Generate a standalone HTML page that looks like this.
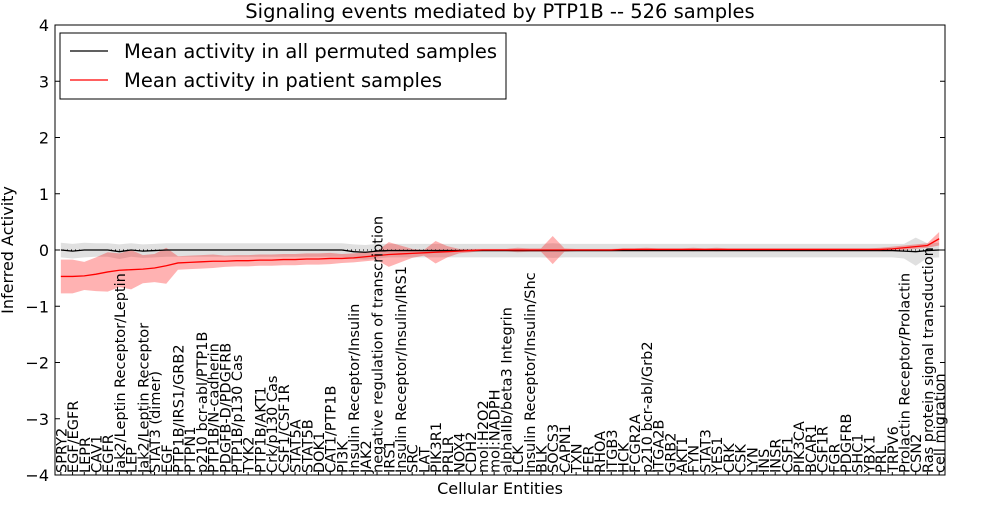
<!DOCTYPE html>
<html><head><meta charset="utf-8"><style>
body{margin:0;background:#fff;}
svg text{font-family:"DejaVu Sans","Liberation Sans",sans-serif;}
</style></head><body>
<svg id="chart" width="1000" height="500" xmlns="http://www.w3.org/2000/svg">
<text x="500" y="18" text-anchor="middle" font-size="19.5">Signaling events mediated by PTP1B -- 526 samples</text>
<g id="plot"></g>
<text x="500" y="494" text-anchor="middle" font-size="16">Cellular Entities</text>
<text transform="translate(13,250) rotate(-90)" text-anchor="middle" font-size="16">Inferred Activity</text>
</svg>
<script>
const categories=["SPRY2","EGF/EGFR","LEPR","CAV1","EGFR","Jak2/Leptin Receptor/Leptin","LEP","Jak2/Leptin Receptor","STAT3 (dimer)","EGF","PTP1B/IRS1/GRB2","PTPN1","p210 bcr-abl/PTP1B","PTP1B/N-cadherin","PDGFB-D/PDGFRB","PTP1B/p130 Cas","TYK2","PTP1B/AKT1","Crk/p130 Cas","CSF1/CSF1R","STAT5A","STAT5B","DOK1","CAT1/PTP1B","PI3K","Insulin Receptor/Insulin","JAK2","negative regulation of transcription","IRS1","Insulin Receptor/Insulin/IRS1","SRC","LAT","PIK3R1","PRLR","NOX4","CDH2","mol:H2O2","mol:NADPH","alphaIIb/beta3 Integrin","LCK","Insulin Receptor/Insulin/Shc","BLK","SOCS3","CAPN1","TXN","FER","RHOA","ITGB3","HCK","FCGR2A","p210 bcr-abl/Grb2","ITGA2B","GRB2","AKT1","FYN","STAT3","YES1","CRK","CSK","LYN","INS","INSR","CSF1","PIK3CA","BCAR1","CSF1R","FGR","PDGFRB","SHC1","YBX1","PRL","TRPV6","Prolactin Receptor/Prolactin","CSN2","Ras protein signal transduction","cell migration"];
const patientMean=[-0.47,-0.47,-0.46,-0.43,-0.39,-0.36,-0.35,-0.34,-0.32,-0.28,-0.23,-0.22,-0.21,-0.2,-0.2,-0.19,-0.19,-0.18,-0.18,-0.17,-0.17,-0.16,-0.16,-0.15,-0.15,-0.14,-0.12,-0.1,-0.08,-0.07,-0.06,-0.05,-0.04,-0.03,-0.02,-0.01,0,0,0,0,0,0,0,0,0,0,0,0,0.01,0.01,0.01,0.01,0.01,0.01,0.01,0.01,0.01,0.01,0.01,0.01,0.01,0.01,0.01,0.01,0.01,0.01,0.01,0.01,0.01,0.01,0.01,0.02,0.04,0.06,0.08,0.2];
const patientSpread=[0.3,0.3,0.25,0.3,0.35,0.3,0.35,0.25,0.25,0.32,0.12,0.12,0.12,0.12,0.1,0.1,0.1,0.1,0.1,0.1,0.1,0.1,0.1,0.1,0.08,0.08,0.08,0.08,0.22,0.15,0.08,0.05,0.2,0.1,0.04,0.03,0.02,0.02,0.02,0.04,0.03,0.03,0.25,0.03,0.02,0.02,0.02,0.02,0.02,0.02,0.03,0.02,0.02,0.02,0.03,0.02,0.03,0.02,0.02,0.02,0.02,0.02,0.02,0.02,0.02,0.02,0.02,0.02,0.02,0.02,0.03,0.04,0.04,0.04,0.04,0.12];
const permMean=[0,-0.02,0,0,0,-0.03,0,-0.02,-0.01,0,0,0,0,0,0,0,0,0,0,0,0,0,0,0,0,-0.03,-0.04,-0.02,-0.01,-0.01,-0.01,-0.01,-0.01,-0.01,-0.01,-0.01,-0.01,-0.01,-0.01,-0.01,-0.01,-0.01,-0.01,-0.01,-0.01,-0.01,-0.01,-0.01,-0.01,-0.01,-0.01,-0.01,-0.01,-0.01,-0.01,-0.01,-0.01,-0.01,-0.01,-0.01,-0.01,-0.01,-0.01,-0.01,-0.01,-0.01,-0.01,-0.01,-0.01,-0.01,-0.01,-0.01,-0.02,-0.03,-0.01,0];
const permSpread=[0.13,0.13,0.13,0.12,0.12,0.13,0.12,0.12,0.12,0.12,0.12,0.12,0.12,0.12,0.12,0.12,0.12,0.12,0.12,0.12,0.12,0.12,0.12,0.12,0.12,0.13,0.13,0.13,0.12,0.12,0.12,0.12,0.12,0.12,0.12,0.12,0.12,0.12,0.12,0.12,0.12,0.12,0.13,0.12,0.12,0.12,0.12,0.12,0.12,0.12,0.12,0.12,0.12,0.12,0.12,0.12,0.12,0.12,0.12,0.12,0.12,0.12,0.12,0.12,0.12,0.12,0.12,0.12,0.12,0.12,0.12,0.12,0.13,0.25,0.13,0.13];
const yTicks=[-4,-3,-2,-1,0,1,2,3,4];

const NS="http://www.w3.org/2000/svg";
const L=55,R=945,T=25,B=475;
const n=categories.length;
const xs=i=>L+(i+0.5)*(R-L)/n;
const ys=v=>T+(4-v)*(B-T)/8;
const plot=document.getElementById('plot');
function mk(tag,attrs){const e=document.createElementNS(NS,tag);for(const k in attrs)e.setAttribute(k,attrs[k]);plot.appendChild(e);return e;}
function band(mean,sp,fill,op){let up=[],dn=[];mean.forEach((m,i)=>{up.push(xs(i)+','+ys(m+sp[i]));dn.unshift(xs(i)+','+ys(m-sp[i]));});return mk('polygon',{points:up.concat(dn).join(' '),fill:fill,'fill-opacity':op});}
function line(mean,color){return mk('polyline',{points:mean.map((m,i)=>xs(i)+','+ys(m)).join(' '),fill:'none',stroke:color,'stroke-width':1.3});}
const gb=band(permMean,permSpread,'#bbbbbb',0.45);


const rb=band(patientMean,patientSpread,'#ff0000',0.3);


const z=mk('line',{x1:L,x2:R,y1:ys(0),y2:ys(0),stroke:'#000','stroke-dasharray':'1,3','stroke-width':1});


const bl=line(permMean,'#000');


const rl=line(patientMean,'#ff0000');


const fr=mk('rect',{x:L,y:T,width:R-L,height:B-T,fill:'none',stroke:'#000','stroke-width':1});


yTicks.forEach(t=>{
  const y=ys(t);
  mk('line',{x1:L,x2:L+5,y1:y,y2:y,stroke:'#000'});
  mk('line',{x1:R-5,x2:R,y1:y,y2:y,stroke:'#000'});
  const tx=mk('text',{x:L-6,y:y+6,'text-anchor':'end','font-size':16});
  tx.textContent=(t<0?'\u2212'+(-t):t);
  
  
});
categories.forEach((c,i)=>{
  const x=xs(i);
  mk('line',{x1:x,x2:x,y1:B,y2:B-3,stroke:'#000'});
  const tx=mk('text',{transform:`translate(${x+5.5},${B-2}) rotate(-90)`,'font-size':14.5});
  tx.textContent=c;
  
  
});
const lg=mk('rect',{x:60,y:33,width:446,height:66,fill:'#fff',stroke:'#000'});


[['#000','Mean activity in all permuted samples',51],['#ff0000','Mean activity in patient samples',80]].forEach(([c,t,y])=>{
  mk('line',{x1:70,x2:108,y1:y,y2:y,stroke:c,'stroke-width':1.3});
  const tx=mk('text',{x:124,y:y+7,'font-size':19.5});
  tx.textContent=t;
  
  
});
</script>
</body></html>
